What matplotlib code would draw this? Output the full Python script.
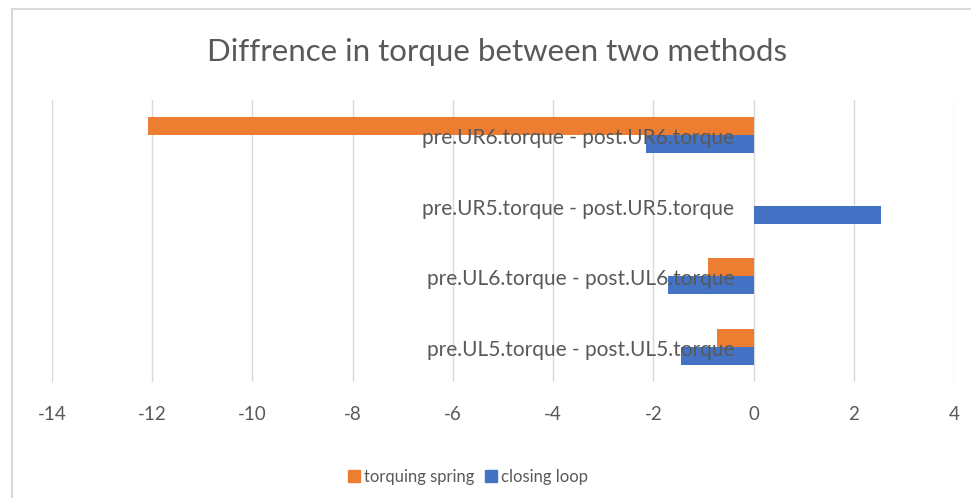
import matplotlib
matplotlib.use('Agg')
import matplotlib.pyplot as plt
import numpy as np
from matplotlib.lines import Line2D

plt.rcParams['font.family'] = ['Lato', 'DejaVu Sans']

# categories bottom to top, as in the reference
categories = ['pre.UL5.torque - post.UL5.torque',
              'pre.UL6.torque - post.UL6.torque',
              'pre.UR5.torque - post.UR5.torque',
              'pre.UR6.torque - post.UR6.torque']
torquing_spring = [-0.72, -0.9, 0.0, -12.08]
closing_loop = [-1.44, -1.7, 2.55, -2.15]
x_ticks = [-14, -12, -10, -8, -6, -4, -2, 0, 2, 4]

ORANGE = '#ED7D31'
BLUE = '#4472C4'
GREY = '#595959'

fig = plt.figure(figsize=(9.71, 4.98), dpi=100)
ax = fig.add_axes([52 / 971, 1 - 382 / 498, 902 / 971, 282 / 498])

y = np.arange(len(categories))
h = 0.255
ax.barh(y + h / 2, torquing_spring, height=h, color=ORANGE, label='torquing spring', zorder=2)
ax.barh(y - h / 2, closing_loop, height=h, color=BLUE, label='closing loop', zorder=2)

ax.set_xlim(-14, 4)
ax.set_ylim(-0.5, 3.5)
ax.set_xticks(x_ticks)
ax.set_xticklabels([str(t) for t in x_ticks])
ax.grid(axis='x', color='#D9D9D9', linewidth=1)
ax.set_axisbelow(True)
ax.set_yticks([])
for s in ['left', 'right', 'top', 'bottom']:
    ax.spines[s].set_visible(False)
ax.tick_params(axis='x', length=0, pad=17, labelsize=13.5, labelcolor=GREY)

# category labels sit at the zero line, on top of the bars (Excel style)
for yi, cat in zip(y, categories):
    ax.annotate(cat, xy=(0, yi), xytext=(-14, -2), textcoords='offset points',
                ha='right', va='center', fontsize=15, color=GREY, zorder=5)

fig.text(0.512, 1 - 52 / 498, 'Diffrence in torque between two methods',
         ha='center', va='center', fontsize=22.5, color=GREY)

handles = [Line2D([], [], marker='s', linestyle='', color=ORANGE, markersize=8),
           Line2D([], [], marker='s', linestyle='', color=BLUE, markersize=8)]
fig.legend(handles, ['torquing spring', 'closing loop'], loc='center',
           bbox_to_anchor=(0.482, 1 - 477 / 498), ncol=2, frameon=False,
           fontsize=12, labelcolor=GREY, handlelength=0.7, handletextpad=0.2,
           columnspacing=0.7)

# chart area border
fig.add_artist(Line2D([12 / 971, 12 / 971], [0, 1 - 9 / 498], color='#D9D9D9', lw=1.5))
fig.add_artist(Line2D([12 / 971, 1], [1 - 9 / 498, 1 - 9 / 498], color='#D9D9D9', lw=1.5))

fig.savefig('out.png', dpi=100)
